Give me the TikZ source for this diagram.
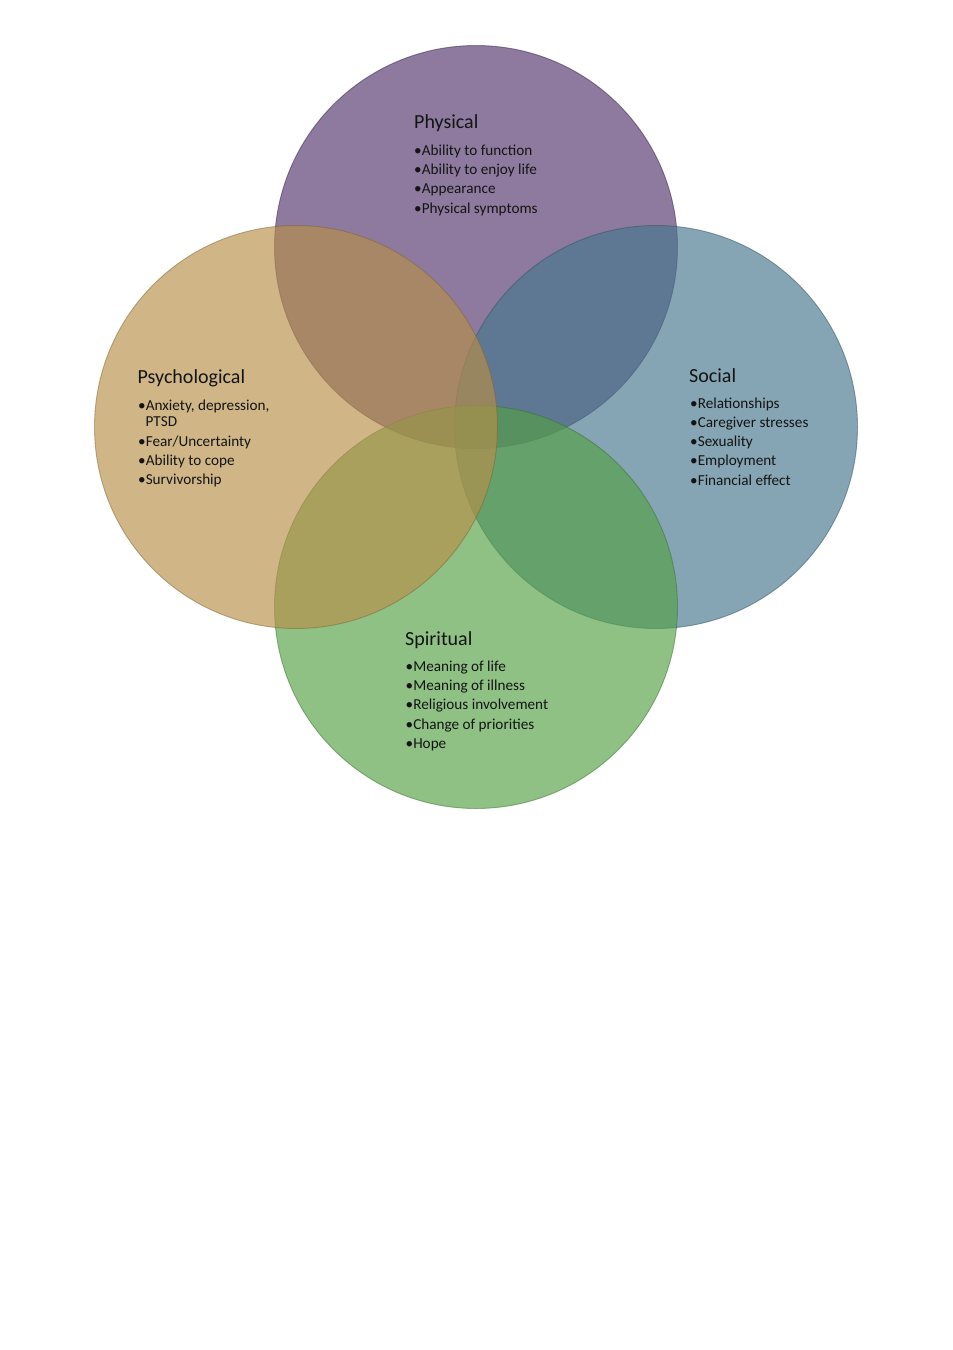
\documentclass[tikz,border=0pt]{standalone}
\usepackage{fontspec}
\setmainfont{Carlito}
\definecolor{physC}{RGB}{80,52,106}
\definecolor{socC}{RGB}{70,118,140}
\definecolor{spirC}{RGB}{83,160,69}
\definecolor{psyC}{RGB}{184,143,72}
\definecolor{txtC}{RGB}{20,20,20}
\begin{document}
\begin{tikzpicture}[x=1pt,y=-1pt,
  venn/.style={circle, minimum size=403pt, inner sep=0pt, fill opacity=0.65, draw opacity=0.5, line width=0.9pt},
  title/.style={anchor=base west, inner sep=0pt, font=\fontsize{20}{24}\selectfont, text=txtC},
  item/.style={anchor=base west, inner sep=0pt, font=\fontsize{15.2}{18}\selectfont, text=txtC}]
\useasboundingbox[fill=white] (0,0) rectangle (953,1350);
% circles in drawing order
\node[venn, fill=physC, draw=physC!70!black] (phys) at (476,247) {};
\node[venn, fill=socC, draw=socC!70!black] (soc) at (656,427) {};
\node[venn, fill=spirC, draw=spirC!70!black] (spir) at (476,607) {};
\node[venn, fill=psyC, draw=psyC!70!black] (psy) at (296,427) {};
% Physical
\node[title] (physT) at (414,128) {Physical};
\foreach \t [count=\i] in {Ability to function, Ability to enjoy life, Appearance, Physical symptoms}
  \node[item] (physI\i) at (414,{155+19.4*(\i-1)}) {•\t};
% Psychological
\node[title] (psyT) at (137.5,383) {Psychological};
\node[item] (psyI1) at (138,410.5) {•Anxiety, depression,};
\node[item] (psyI1b) at (145.5,426) {PTSD};
\node[item] (psyI2) at (138,446) {•Fear/Uncertainty};
\node[item] (psyI3) at (138,465.3) {•Ability to cope};
\node[item] (psyI4) at (138,484.6) {•Survivorship};
% Social
\node[title] (socT) at (689,382) {Social};
\foreach \t [count=\i] in {Relationships, Caregiver stresses, Sexuality, Employment, Financial effect}
  \node[item] (socI\i) at (690,{408+19.3*(\i-1)}) {•\t};
% Spiritual
\node[title] (spirT) at (405,645) {Spiritual};
\foreach \t [count=\i] in {Meaning of life, Meaning of illness, Religious involvement, Change of priorities, Hope}
  \node[item] (spirI\i) at (405.5,{671.5+19.2*(\i-1)}) {•\t};
\end{tikzpicture}
\end{document}
